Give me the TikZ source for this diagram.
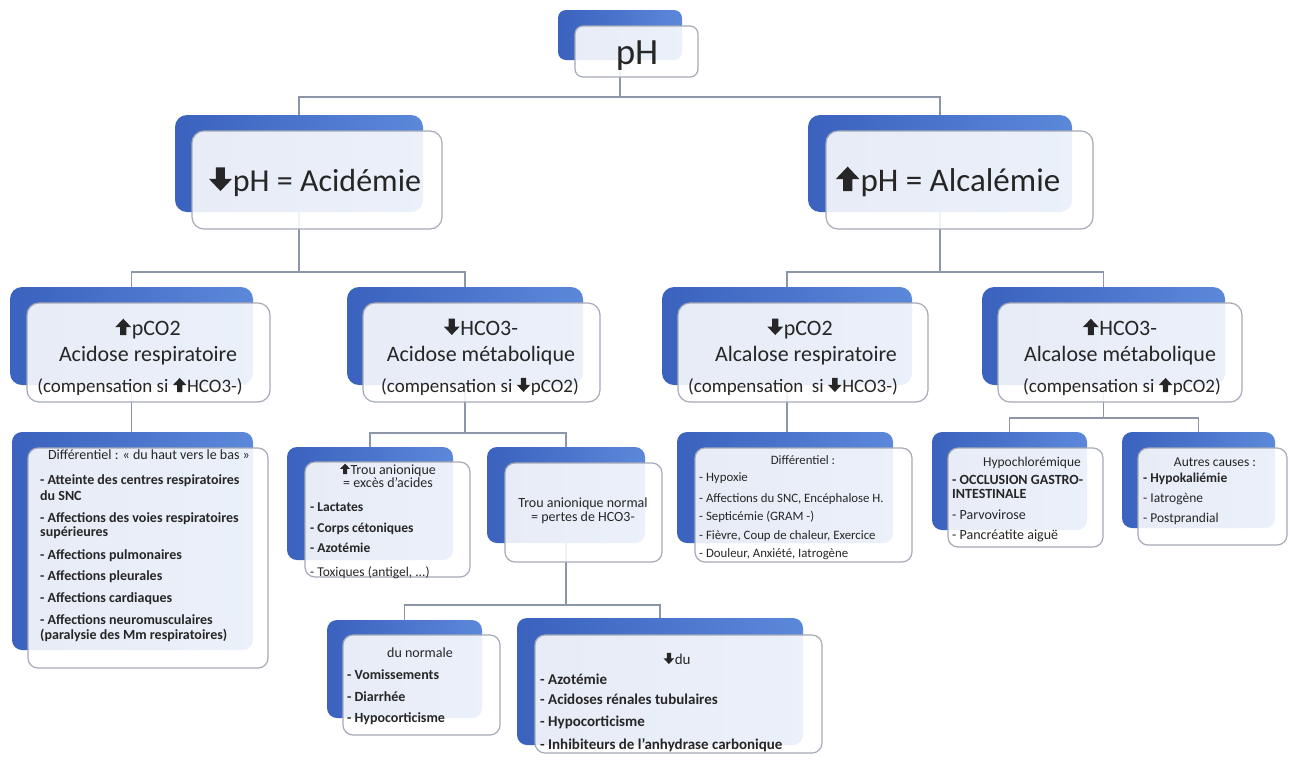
\documentclass[tikz,border=0pt]{standalone}
\usepackage{fontspec}
\setmainfont{Carlito}
\usetikzlibrary{fit,backgrounds}
\definecolor{txt}{RGB}{38,38,38}
\definecolor{conncol}{RGB}{140,150,168}
\definecolor{bordcol}{RGB}{165,170,182}
\definecolor{blueL}{RGB}{58,98,190}
\definecolor{blueR}{RGB}{92,136,218}
\newcommand\uarr{\tikz[baseline=0pt,x=1em,y=1em]\fill[txt] (0.22,0)--(0.5,0)--(0.5,0.36)--(0.72,0.36)--(0.36,0.74)--(0,0.36)--(0.22,0.36)--cycle;\kern0.03em}
\newcommand\darr{\tikz[baseline=0pt,x=1em,y=1em]\fill[txt] (0.22,0.74)--(0.5,0.74)--(0.5,0.38)--(0.72,0.38)--(0.36,0)--(0,0.38)--(0.22,0.38)--cycle;\kern0.03em}
\def\rad{10pt}
\tikzset{
  backbox/.style={inner sep=0pt, rounded corners=\rad, left color=blueL, right color=blueR, draw=none},
  frontbox/.style={inner sep=0pt, rounded corners=\rad, draw=bordcol, line width=1.2pt, fill=white, fill opacity=0.88},
  conn/.style={draw=conncol, line width=1.2pt},
  lbl/.style={inner sep=0pt, text=txt, anchor=base},
  item/.style={inner sep=0pt, text=txt, anchor=base west},
}
\newcommand\twobox[9]{%
  \node[backbox, fit={(#2,#3)(#4,#5)}] (#1B) {};
  \node[frontbox, fit={(#6,#7)(#8,#9)}] (#1) {};
}
\newcommand\fs[1]{\fontsize{#1}{#1}\selectfont}
\begin{document}
\begin{tikzpicture}[x=1pt,y=-1pt]
\useasboundingbox (0,0) rectangle (1290,764);
% boxes
\def\rad{8pt}
\twobox{ph}{558}{10}{682}{60}{575}{26}{698}{77}
\def\rad{12pt}
\twobox{ac}{175}{115}{423}{212}{192}{131}{442}{229}
\twobox{al}{808}{115}{1072}{212}{826}{131}{1093}{229}
\twobox{ar}{10}{287}{253}{385}{27}{303}{270}{402}
\twobox{am}{347}{287}{583}{385}{363}{303}{600}{402}
\twobox{lr}{662}{287}{912}{385}{678}{303}{928}{402}
\twobox{lm}{982}{287}{1225}{385}{998}{303}{1242}{402}
\def\rad{10pt}
\twobox{da}{12}{432}{253}{650}{28}{448}{268}{668}
\twobox{tu}{287}{447}{453}{560}{305}{462}{470}{577}
\twobox{tn}{487}{447}{645}{543}{505}{463}{662}{562}
\twobox{dn}{327}{620}{482}{718}{343}{635}{500}{735}
\twobox{dd}{517}{618}{803}{745}{535}{635}{822}{753}
\twobox{db}{677}{432}{893}{543}{695}{448}{912}{562}
\twobox{hy}{932}{432}{1087}{530}{948}{448}{1103}{547}
\twobox{au}{1122}{432}{1275}{528}{1138}{448}{1287}{545}
% connectors
\begin{pgfonlayer}{background}
\fill[white] (0,0) rectangle (1290,764);
\coordinate (j0) at (620,97);
\draw[conn] (phB) -- (j0) -| (acB);
\draw[conn] (j0) -| (alB);
\coordinate (j1) at (299,272);
\draw[conn] (acB) -- (j1) -| (arB);
\draw[conn] (j1) -| (amB);
\coordinate (j2) at (940,272);
\draw[conn] (alB) -- (j2) -| (lrB);
\draw[conn] (j2) -| (lmB);
\draw[conn] (arB.south) -- (arB.south |- daB.north);
\coordinate (j3) at (465,433);
\draw[conn] (amB) -- (j3) -| (tuB);
\draw[conn] (j3) -| (tnB);
\draw[conn] (lrB.south) -- (lrB.south |- dbB.north);
\coordinate (j4) at (1103.5,418);
\draw[conn] (lmB) -- (j4) -| (hyB);
\draw[conn] (j4) -| (auB);
\coordinate (j5) at (566,605);
\draw[conn] (tnB) -- (j5) -| (dnB);
\draw[conn] (j5) -| (ddB);
\end{pgfonlayer}
% level 0 and 1 texts
\node[lbl, font=\fs{37}] (phT) at (637,64) {pH};
\node[lbl, font=\fs{32}] (acT) at (315,191) {\darr pH = Acidémie};
\node[lbl, font=\fs{33}] (alT) at (948,191) {\uarr pH = Alcalémie};
% level 2 texts
\node[lbl, font=\fs{22}] (arT1) at (148,335) {\uarr pCO2};
\node[lbl, font=\fs{22}] (arT2) at (148,361) {Acidose respiratoire};
\node[lbl, font=\fs{19}] (arT3) at (140,392) {(compensation si \uarr HCO3-)};
\node[lbl, font=\fs{22}] (amT1) at (481,335) {\darr HCO3-};
\node[lbl, font=\fs{22}] (amT2) at (481,361) {Acidose métabolique};
\node[lbl, font=\fs{19}] (amT3) at (480,392) {(compensation si \darr pCO2)};
\node[lbl, font=\fs{22}] (lrT1) at (800,335) {\darr pCO2};
\node[lbl, font=\fs{22}] (lrT2) at (806,361) {Alcalose respiratoire};
\node[lbl, font=\fs{19}] (lrT3) at (793,392) {(compensation\ \ si \darr HCO3-)};
\node[lbl, font=\fs{22}] (lmT1) at (1120,335) {\uarr HCO3-};
\node[lbl, font=\fs{22}] (lmT2) at (1120,361) {Alcalose métabolique};
\node[lbl, font=\fs{19}] (lmT3) at (1122,392) {(compensation si \uarr pCO2)};
% differential acidose respiratoire
\node[lbl, font=\fs{14}] (daT) at (149,459) {Différentiel : « du haut vers le bas »};
\foreach \yy/\tx [count=\i] in {484/{- Atteinte des centres respiratoires}, 500/{du SNC},
  522/{- Affections des voies respiratoires}, 536/{supérieures}, 559/{- Affections pulmonaires},
  580/{- Affections pleurales}, 602/{- Affections cardiaques}, 624/{- Affections neuromusculaires},
  639/{(paralysie des Mm respiratoires)}}
  \node[item, font=\fs{14}\bfseries] (dai\i) at (40,\yy) {\tx};
% trou anionique augmente
\node[lbl, font=\fs{14}] (tuT1) at (388,474) {\uarr Trou anionique};
\node[lbl, font=\fs{14}] (tuT2) at (388,487) {= excès d'acides};
\foreach \yy/\tx [count=\i] in {511/{- Lactates}, 532/{- Corps cétoniques}, 552/{- Azotémie}}
  \node[item, font=\fs{13.5}\bfseries] (tui\i) at (310,\yy) {\tx};
\node[item, font=\fs{13.5}] (tui4) at (310,576) {- Toxiques (antigel, ...)};
% trou anionique normal
\node[lbl, font=\fs{14}] (tnT1) at (583,507) {Trou anionique normal};
\node[lbl, font=\fs{14}] (tnT2) at (583,521) {= pertes de HCO3-};
% du normale
\node[lbl, font=\fs{14}] (dnT) at (420,657) {du normale};
\foreach \yy/\tx [count=\i] in {679/{- Vomissements}, 701/{- Diarrhée}, 722/{- Hypocorticisme}}
  \node[item, font=\fs{14}\bfseries] (dni\i) at (347,\yy) {\tx};
% du diminue
\node[lbl, font=\fs{15}] (ddT) at (677,664) {\darr du};
\foreach \yy/\tx [count=\i] in {684/{- Azotémie}, 704/{- Acidoses rénales tubulaires},
  726/{- Hypocorticisme}, 749/{- Inhibiteurs de l'anhydrase carbonique}}
  \node[item, font=\fs{15}\bfseries] (ddi\i) at (540,\yy) {\tx};
% differential alcalose respiratoire
\node[lbl, font=\fs{12.8}] (dbT) at (803,464) {Différentiel :};
\foreach \yy/\tx [count=\i] in {481/{- Hypoxie}, 502/{- Affections du SNC, Encéphalose H.},
  520/{- Septicémie (GRAM -)}, 539/{- Fièvre, Coup de chaleur, Exercice}, 557/{- Douleur, Anxiété, Iatrogène}}
  \node[item, font=\fs{12.8}] (dbi\i) at (699,\yy) {\tx};
% hypochloremique
\node[lbl, font=\fs{13.5}] (hyT) at (1032,466) {Hypochlorémique};
\node[item, font=\fs{14}\bfseries] (hyi1) at (952,484) {- OCCLUSION GASTRO-};
\node[item, font=\fs{14}\bfseries] (hyi2) at (952,498) {INTESTINALE};
\node[item, font=\fs{14}] (hyi3) at (952,519) {- Parvovirose};
\node[item, font=\fs{14}] (hyi4) at (952,539) {- Pancréatite aiguë};
% autres causes
\node[lbl, font=\fs{13.5}] (auT) at (1215,466) {Autres causes :};
\node[item, font=\fs{13.5}\bfseries] (aui1) at (1143,482) {- Hypokaliémie};
\node[item, font=\fs{13.5}] (aui2) at (1143,502) {- Iatrogène};
\node[item, font=\fs{13.5}] (aui3) at (1143,522) {- Postprandial};
\end{tikzpicture}
\end{document}
